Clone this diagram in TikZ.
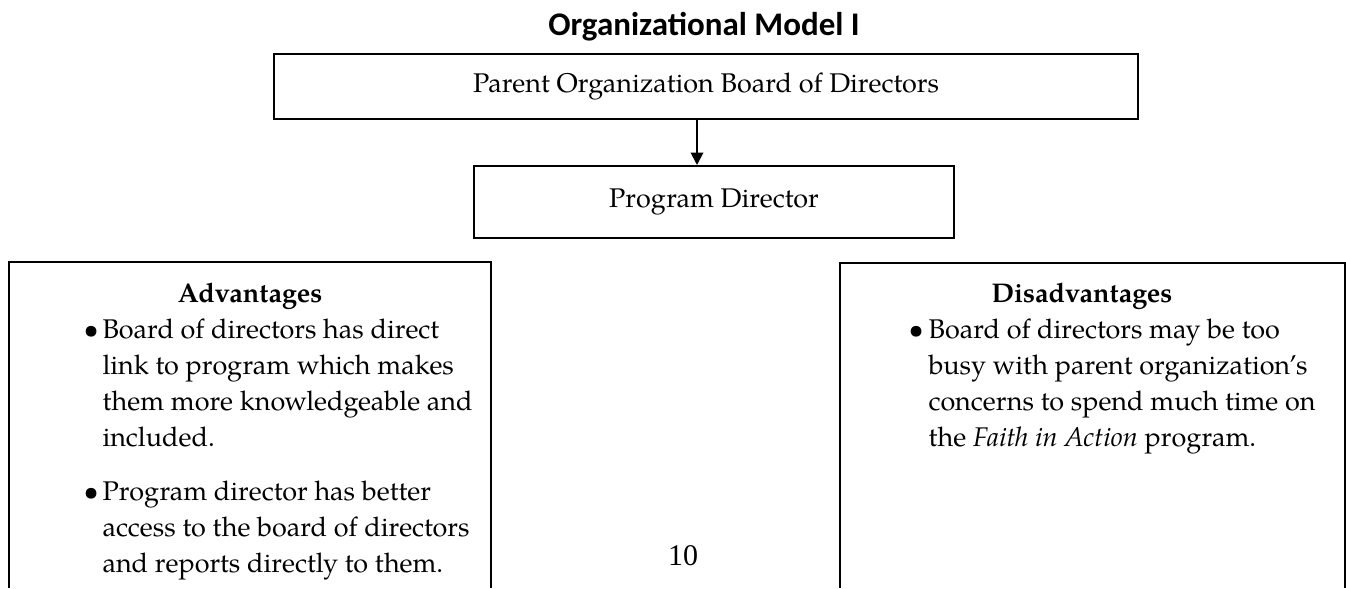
\documentclass[tikz,border=0pt]{standalone}
\usepackage{fontspec}
\setmainfont{TeX Gyre Pagella}
\newfontfamily\titlefont{Carlito}
\newfontfamily\pagefont{Liberation Serif}
\usetikzlibrary{arrows.meta}

\tikzset{
  box/.style={draw,line width=0.8pt,inner sep=0pt,font=\fontsize{10.8}{14.4}\selectfont},
  side/.style={line width=0.8pt},
  txt/.style={anchor=base west,align=left,inner sep=0pt,font=\fontsize{10.8}{14.4}\selectfont},
  head/.style={anchor=base,inner sep=0pt,font=\fontsize{10.8}{14.4}\selectfont\bfseries},
  link/.style={line width=0.8pt,-{Triangle[length=5pt,width=5pt]}}
}

\begin{document}
\begin{tikzpicture}[x=0.4pt,y=-0.4pt]
\useasboundingbox (0,0) rectangle (1346,588);
%\draw[step=50,gray,very thin] (0,0) grid (1346,588); %help grid

% title
\node[anchor=base,inner sep=0pt,font=\titlefont\fontsize{13.2}{16}\selectfont\bfseries] (title) at (704,35) {Organizational Model I};

% chain
\node[box,minimum width=345.6pt,minimum height=26pt] (board) at (706,86.5) {Parent Organization Board of Directors};
\node[box,minimum width=192pt,minimum height=28.8pt] (director) at (714,202) {Program Director};
\draw[link] ([xshift=-3.6pt]board.south) -- ([xshift=-3.6pt]board.south |- director.north);

% side boxes, open at the bottom
\draw[side] (9,588) -- (9,262) -- (491,262) -- (491,588); %advantages
\draw[side] (840,588) -- (840,263) -- (1345,263) -- (1345,588); %disadvantages

% advantages (multi-line nodes sit on their last baseline)
\node[head] (adv) at (250,302) {Advantages};
\node[txt] (dot1) at (83,338) {\textbullet};
\node[txt] (adv1) at (102,446) {Board of directors has direct\\link to program which makes\\them more knowledgeable and\\included.};
\node[txt] (dot2) at (83,500) {\textbullet};
\node[txt] (adv2) at (102,572) {Program director has better\\access to the board of directors\\and reports directly to them.};

% disadvantages
\node[head] (dis) at (1082,302) {Disadvantages};
\node[txt] (dot3) at (908,338) {\textbullet};
\node[txt] (dis1) at (928,446) {Board of directors may be too\\busy with parent organization's\\concerns to spend much time on\\the \textit{Faith in Action} program.};

% page number
\node[anchor=base,inner sep=0pt,font=\pagefont\fontsize{12}{14}\selectfont] (page) at (683,565) {10};
\end{tikzpicture}
\end{document}
